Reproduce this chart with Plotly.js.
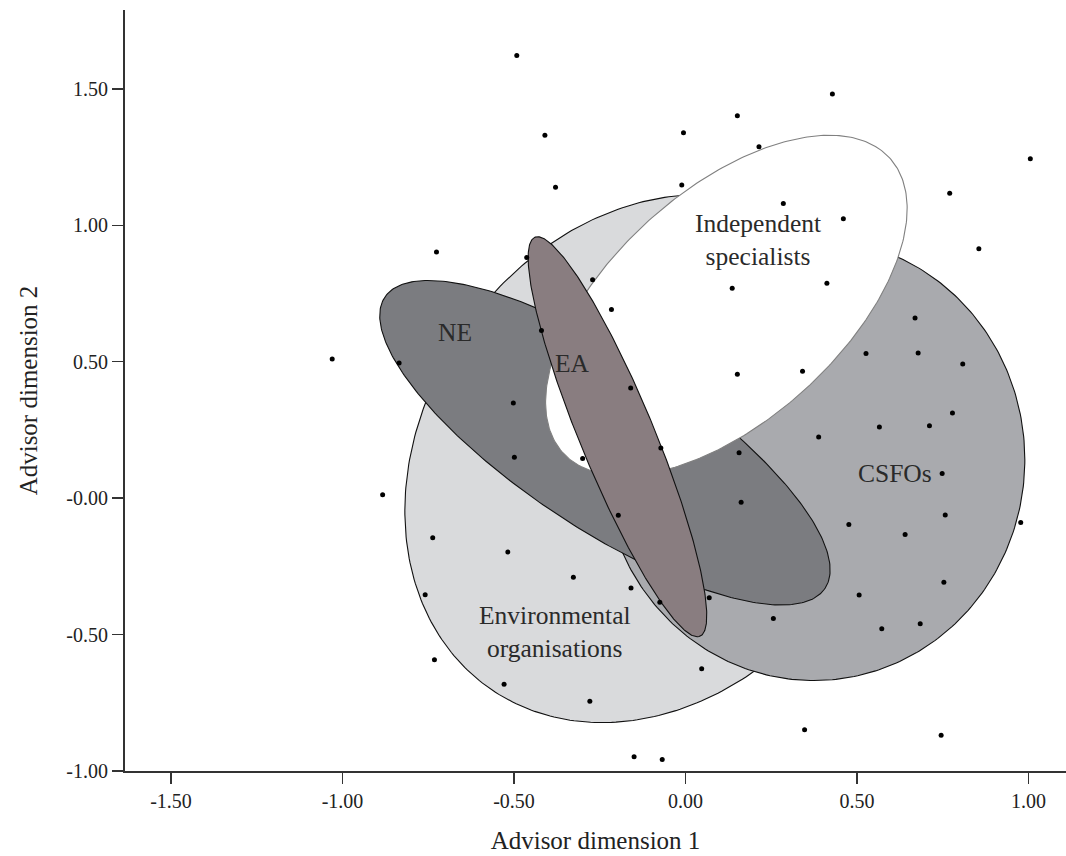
<!DOCTYPE html>
<html><head><meta charset="utf-8">
<script src="https://cdn.plot.ly/plotly-3.0.1.min.js"></script>
<style>html,body{margin:0;padding:0;background:#fff}</style>
</head><body><div id="chart" style="width:1066px;height:856px"></div>
<script>
// Group confidence ellipses (data units): drawn bottom to top
const groupNames = ['Environmental organisations', 'CSFOs', 'NE', 'Independent specialists', 'EA'];
const groupLabels = ['Environmental<br>organisations', 'CSFOs', 'NE', 'Independent<br>specialists', 'EA'];
const ellipseCx = [-0.101, 0.374, -0.235, 0.119, -0.1985];
const ellipseCy = [0.145, 0.141, 0.203, 0.706, 0.225];
const ellipseRx = [0.9885, 0.615, 0.837, 0.727, 0.770];
const ellipseRy = [0.688, 0.8095, 0.290, 0.372, 0.111];
const ellipseAngle = [73.4, 0, -41.4, 53.3, -72.0];
const labelX = [-0.381, 0.610, -0.672, 0.211, -0.331];
const labelY = [-0.489, 0.090, 0.606, 0.947, 0.493];

// Advisors (points)
const advisorX = [-0.726,-0.492,-0.410,-0.006,0.151,0.214,-0.379,-0.011,-0.463,0.428,1.005,0.770,0.285,0.460,0.855,
 -1.030,-0.835,-0.883,-0.271,-0.216,0.136,-0.420,0.151,-0.160,-0.502,-0.499,-0.300,-0.072,0.156,0.162,-0.196,
 0.412,0.669,0.526,0.678,0.808,0.341,0.778,0.565,0.711,0.388,0.748,0.757,
 -0.737,-0.759,-0.732,-0.518,-0.327,-0.159,-0.075,0.069,0.047,-0.529,-0.279,-0.150,-0.068,
 0.476,0.640,0.977,0.753,0.506,0.256,0.572,0.684,0.347,0.745];
const advisorY = [0.902,1.622,1.330,1.339,1.401,1.288,1.139,1.148,0.882,1.481,1.244,1.117,1.080,1.024,0.914,
 0.510,0.495,0.012,0.800,0.691,0.769,0.614,0.454,0.404,0.349,0.150,0.145,0.184,0.166,-0.015,-0.063,
 0.788,0.660,0.530,0.532,0.492,0.465,0.312,0.261,0.265,0.224,0.090,-0.062,
 -0.145,-0.354,-0.592,-0.197,-0.290,-0.329,-0.382,-0.365,-0.625,-0.682,-0.744,-0.948,-0.958,
 -0.097,-0.133,-0.089,-0.308,-0.355,-0.441,-0.479,-0.460,-0.849,-0.869];

const xTickVals = [-1.5, -1.0, -0.5, 0.0, 0.5, 1.0];
const xTickText = ['-1.50', '-1.00', '-0.50', '0.00', '0.50', '1.00'];
const yTickVals = [-1.0, -0.5, 0.0, 0.5, 1.0, 1.5];
const yTickText = ['-1.00', '-0.50', '-0.00', '0.50', '1.00', '1.50'];

const fills = ['#d9dadc', '#a9aaae', '#7b7c80', '#ffffff', '#897d80'];
const edges = ['#111111', '#111111', '#111111', '#808080', '#111111'];

function ellipsePath(cx, cy, rx, ry, deg) {
  const th = deg * Math.PI / 180, xs = [], ys = [];
  const n = 360;
  for (let i = 0; i <= n; i++) {
    const t = 2 * Math.PI * i / n;
    const ex = rx * Math.cos(t), ey = ry * Math.sin(t);
    xs.push(cx + ex * Math.cos(th) - ey * Math.sin(th));
    ys.push(cy + ex * Math.sin(th) + ey * Math.cos(th));
  }
  return {xs, ys};
}

const traces = groupNames.map((name, i) => {
  const p = ellipsePath(ellipseCx[i], ellipseCy[i], ellipseRx[i], ellipseRy[i], ellipseAngle[i]);
  return {type: 'scatter', mode: 'lines', x: p.xs, y: p.ys, name: name,
    fill: 'toself', fillcolor: fills[i], line: {color: edges[i], width: 1.1},
    hoverinfo: 'skip', showlegend: false};
});
traces.push({type: 'scatter', mode: 'markers', x: advisorX, y: advisorY, name: 'Advisors',
  marker: {color: '#000', size: 5}, showlegend: false});

const serif = 'Liberation Serif, Times New Roman, serif';
const annotations = groupLabels.map((t, i) => ({
  x: labelX[i], y: labelY[i], xref: 'x', yref: 'y', text: t, showarrow: false,
  font: {family: serif, size: 25.5, color: '#2a2a2a'}
}));

const axisCommon = {showgrid: false, zeroline: false, showline: true, linecolor: '#333', linewidth: 2,
  ticks: 'outside', ticklen: 11, tickwidth: 1.5, tickcolor: '#333', fixedrange: true,
  tickfont: {family: serif, size: 20, color: '#222'}};

const layout = {
  width: 1066, height: 856,
  margin: {l: 125, r: 0, t: 10, b: 85},
  paper_bgcolor: '#fff', plot_bgcolor: '#fff', showlegend: false,
  font: {family: serif, color: '#222'},
  xaxis: Object.assign({}, axisCommon, {range: [-1.634, 1.109], tickvals: xTickVals, ticktext: xTickText,
    title: {text: 'Advisor dimension 1', font: {family: serif, size: 25, color: '#222'}, standoff: 20}}),
  yaxis: Object.assign({}, axisCommon, {range: [-1.0, 1.789], tickvals: yTickVals, ticktext: yTickText,
    title: {text: 'Advisor dimension 2', font: {family: serif, size: 25, color: '#222'}, standoff: 22}}),
  annotations: annotations
};

Plotly.newPlot('chart', traces, layout, {displayModeBar: false, staticPlot: true});
</script></body></html>
